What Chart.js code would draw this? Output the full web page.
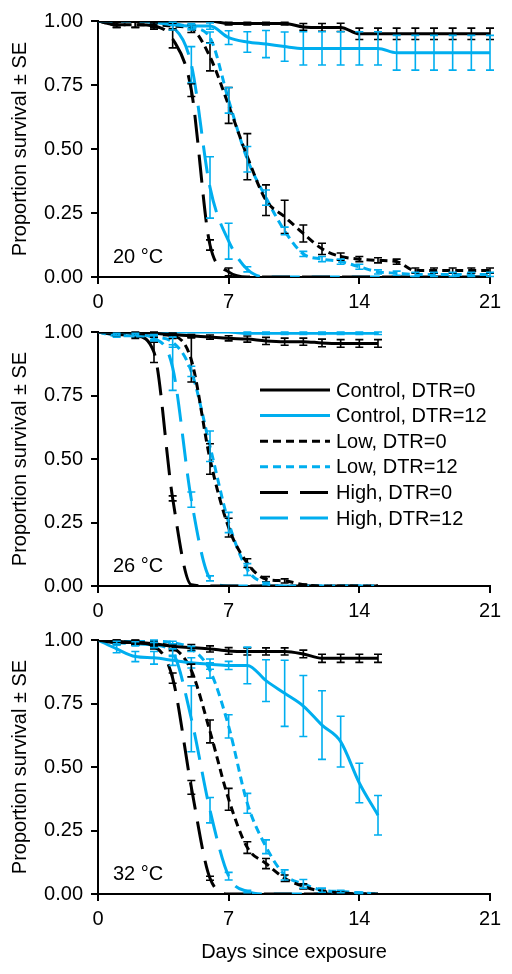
<!DOCTYPE html>
<html>
<head>
<meta charset="utf-8">
<script src="https://cdn.jsdelivr.net/npm/chart.js@4.4.1/dist/chart.umd.min.js"></script>
<style>
  html, body { margin: 0; padding: 0; background: #fff; }
  #wrap { position: relative; width: 512px; height: 974px; }
  .panel { position: absolute; left: 0; }
</style>
</head>
<body>
<div id="wrap">
  <canvas id="p20" class="panel" style="top:0" width="512" height="312"></canvas>
  <canvas id="p26" class="panel" style="top:312px" width="512" height="306"></canvas>
  <canvas id="p32" class="panel" style="top:618px" width="512" height="356"></canvas>
</div>
<script>
// days on the x axis
const days20 = [0, 1, 2, 3, 4, 5, 6, 7, 8, 9, 10, 11, 12, 13, 14, 15, 16, 17, 18, 19, 20, 21];
const days26 = [0, 1, 2, 3, 4, 5, 6, 7, 8, 9, 10, 11, 12, 13, 14, 15];
const days32 = [0, 1, 2, 3, 4, 5, 6, 7, 8, 9, 10, 11, 12, 13, 14, 15];
const xTicks = [0, 7, 14, 21];
const yTicks = [0, 0.25, 0.5, 0.75, 1];

const seriesLabels = ["Control, DTR=0", "Control, DTR=12", "Low, DTR=0", "Low, DTR=12", "High, DTR=0", "High, DTR=12"];

// 20 °C
const ctrl0_20   = [1, 1, 1, 1, 1, 1, 1, 0.99, 0.99, 0.99, 0.99, 0.977, 0.975, 0.975, 0.95, 0.95, 0.95, 0.95, 0.95, 0.95, 0.95, 0.95];
const ctrl0_20se = [0, 0, 0, 0, 0, 0, 0, 0.005, 0.005, 0.005, 0.005, 0.013, 0.015, 0.016, 0.022, 0.022, 0.022, 0.022, 0.022, 0.022, 0.022, 0.022];
const ctrl12_20   = [1, 1, 1, 0.995, 0.985, 0.98, 0.98, 0.935, 0.918, 0.91, 0.9, 0.893, 0.893, 0.893, 0.893, 0.893, 0.876, 0.876, 0.876, 0.876, 0.876, 0.876];
const ctrl12_20se = [0, 0, 0, 0, 0, 0.01, 0.012, 0.027, 0.04, 0.053, 0.057, 0.065, 0.065, 0.065, 0.065, 0.065, 0.068, 0.068, 0.068, 0.068, 0.068, 0.068];
const low0_20   = [1, 0.985, 0.985, 0.985, 0.98, 0.97, 0.86, 0.67, 0.47, 0.3, 0.235, 0.17, 0.11, 0.08, 0.07, 0.065, 0.06, 0.025, 0.025, 0.025, 0.025, 0.025];
const low0_20se = [0, 0.01, 0.01, 0.012, 0.01, 0.015, 0.055, 0.07, 0.09, 0.06, 0.065, 0.033, 0.022, 0.014, 0.01, 0.01, 0.01, 0.01, 0.01, 0.01, 0.01, 0.01];
const low12_20   = [1, 1, 1, 0.995, 0.99, 0.975, 0.935, 0.69, 0.46, 0.31, 0.18, 0.09, 0.07, 0.06, 0.04, 0.02, 0.015, 0.01, 0.01, 0.01, 0.01, 0.01];
const low12_20se = [0, 0, 0, 0, 0.005, 0.01, 0.022, 0.05, 0.05, 0.03, 0.015, 0.01, 0.01, 0.01, 0.01, 0.008, 0.008, 0.008, 0.008, 0.008, 0.008, 0.008];
const high0_20   = [1, 0.985, 0.985, 0.98, 0.93, 0.73, 0.125, 0.02, 0, 0, 0, 0, 0, 0, 0, 0, 0, 0, 0, 0, 0, 0];
const high0_20se = [0, 0.01, 0.01, 0.012, 0.035, 0.025, 0.02, 0.015, 0, 0, 0, 0, 0, 0, 0, 0, 0, 0, 0, 0, 0, 0];
const high12_20   = [1, 1, 1, 0.995, 0.975, 0.83, 0.35, 0.14, 0.03, 0, 0, 0, 0, 0, 0, 0, 0, 0, 0, 0, 0, 0];
const high12_20se = [0, 0, 0, 0, 0.01, 0.07, 0.12, 0.07, 0.01, 0, 0, 0, 0, 0, 0, 0, 0, 0, 0, 0, 0, 0];

// 26 °C
const ctrl0_26   = [1, 1, 1, 0.995, 0.99, 0.985, 0.98, 0.975, 0.972, 0.965, 0.962, 0.962, 0.957, 0.955, 0.955, 0.955];
const ctrl0_26se = [0, 0, 0, 0, 0.005, 0.005, 0.008, 0.01, 0.012, 0.014, 0.014, 0.014, 0.015, 0.015, 0.015, 0.015];
const ctrl12_26   = [1, 1, 1, 1, 1, 1, 1, 1, 0.995, 0.995, 0.995, 0.995, 0.995, 0.995, 0.995, 0.995];
const ctrl12_26se = [0, 0, 0, 0, 0, 0, 0, 0, 0.005, 0.005, 0.005, 0.005, 0.005, 0.005, 0.005, 0.005];
const low0_26   = [1, 1, 0.995, 0.99, 0.985, 0.89, 0.5, 0.23, 0.09, 0.027, 0.02, 0.005, 0, 0, 0, 0];
const low0_26se = [0, 0, 0.005, 0.01, 0.01, 0.087, 0.06, 0.037, 0.017, 0.01, 0.008, 0.003, 0, 0, 0, 0];
const low12_26   = [1, 0.985, 0.985, 0.98, 0.96, 0.845, 0.55, 0.25, 0.065, 0.01, 0, 0, 0, 0, 0, 0];
const low12_26se = [0, 0.005, 0.005, 0.01, 0.02, 0.02, 0.06, 0.04, 0.023, 0.005, 0, 0, 0, 0, 0, 0];
const high0_26   = [1, 0.99, 0.985, 0.92, 0.345, 0.005, 0, 0, 0, 0, 0, 0, 0, 0, 0, 0];
const high0_26se = [0, 0.005, 0.01, 0.04, 0.01, 0, 0, 0, 0, 0, 0, 0, 0, 0, 0, 0];
const high12_26   = [1, 0.99, 0.99, 0.975, 0.86, 0.34, 0.03, 0, 0, 0, 0, 0, 0, 0, 0, 0];
const high12_26se = [0, 0.005, 0.005, 0.01, 0.09, 0.03, 0.01, 0, 0, 0, 0, 0, 0, 0, 0, 0];

// 32 °C
const ctrl0_32   = [1, 0.99, 0.99, 0.985, 0.975, 0.97, 0.965, 0.957, 0.955, 0.955, 0.955, 0.945, 0.928, 0.928, 0.928, 0.928];
const ctrl0_32se = [0, 0.008, 0.01, 0.01, 0.01, 0.012, 0.012, 0.013, 0.014, 0.014, 0.014, 0.015, 0.016, 0.016, 0.016, 0.016];
const ctrl12_32   = [1, 0.965, 0.935, 0.93, 0.92, 0.91, 0.905, 0.9, 0.9, 0.84, 0.79, 0.74, 0.665, 0.6, 0.437, 0.31];
const ctrl12_32se = [0, 0.015, 0.02, 0.025, 0.02, 0.02, 0.02, 0.016, 0.072, 0.082, 0.13, 0.12, 0.135, 0.1, 0.078, 0.078];
const low0_32   = [1, 0.995, 0.99, 0.985, 0.97, 0.88, 0.64, 0.373, 0.183, 0.12, 0.062, 0.03, 0.01, 0.005, 0, 0];
const low0_32se = [0, 0.005, 0.008, 0.01, 0.012, 0.025, 0.045, 0.043, 0.023, 0.02, 0.013, 0.01, 0.005, 0.003, 0, 0];
const low12_32   = [1, 1, 1, 0.995, 0.99, 0.965, 0.88, 0.66, 0.357, 0.186, 0.075, 0.04, 0.015, 0.01, 0.005, 0];
const low12_32se = [0, 0, 0, 0.005, 0.005, 0.01, 0.03, 0.046, 0.039, 0.027, 0.02, 0.017, 0.008, 0.005, 0.003, 0];
const high0_32   = [1, 0.995, 0.99, 0.975, 0.85, 0.42, 0.062, 0, 0, 0, 0, 0, 0, 0, 0, 0];
const high0_32se = [0, 0.005, 0.008, 0.01, 0.02, 0.027, 0.008, 0, 0, 0, 0, 0, 0, 0, 0, 0];
const high12_32   = [1, 0.99, 0.985, 0.98, 0.95, 0.69, 0.33, 0.07, 0.01, 0, 0, 0, 0, 0, 0, 0];
const high12_32se = [0, 0.005, 0.008, 0.01, 0.015, 0.13, 0.05, 0.015, 0.005, 0, 0, 0, 0, 0, 0, 0];

const BLACK = "#000000";
const BLUE = "#00aeef";
const FONT = "'Liberation Sans', Arial, sans-serif";

Chart.defaults.font.family = FONT;
Chart.defaults.font.size = 20;
Chart.defaults.color = "#000";

const lineStyles = [
  { color: BLACK, dash: [] },
  { color: BLUE, dash: [] },
  { color: BLACK, dash: [8, 5] },
  { color: BLUE, dash: [8, 5] },
  { color: BLACK, dash: [28, 12] },
  { color: BLUE, dash: [28, 12] }
];

// vertical SE bars with small caps, drawn through the chart scales
const errorBars = {
  id: "errorBars",
  afterDatasetsDraw(chart) {
    const { ctx, scales: { x, y } } = chart;
    ctx.save();
    ctx.setLineDash([]);
    ctx.lineWidth = 1.6;
    chart.data.datasets.forEach(ds => {
      ctx.strokeStyle = ds.borderColor;
      ds.data.forEach((p, j) => {
        const e = ds.se[j];
        if (!e) return;
        const px = x.getPixelForValue(p.x);
        const top = y.getPixelForValue(Math.min(1, p.y + e));
        const bot = y.getPixelForValue(Math.max(0, p.y - e));
        ctx.beginPath();
        ctx.moveTo(px, top);
        ctx.lineTo(px, bot);
        ctx.moveTo(px - 4, top);
        ctx.lineTo(px + 4, top);
        ctx.moveTo(px - 4, bot);
        ctx.lineTo(px + 4, bot);
        ctx.stroke();
      });
    });
    ctx.restore();
  }
};

// "20 °C" etc. in the lower left corner
const panelLabel = {
  id: "panelLabel",
  afterDraw(chart, args, opts) {
    const { ctx, chartArea } = chart;
    ctx.save();
    ctx.font = "20px " + FONT;
    ctx.fillStyle = "#000";
    ctx.textBaseline = "middle";
    ctx.fillText(opts.text, chartArea.left + 15, chartArea.bottom - 20);
    ctx.restore();
  }
};

const panelLegend = {
  id: "panelLegend",
  afterDraw(chart, args, opts) {
    if (!opts.show) return;
    const { ctx, chartArea } = chart;
    ctx.save();
    ctx.font = "20px " + FONT;
    ctx.fillStyle = "#000";
    ctx.textBaseline = "middle";
    chart.data.datasets.forEach((ds, i) => {
      const yy = chartArea.top + 58 + i * 25.6;
      const x0 = chartArea.left + 162;
      ctx.strokeStyle = ds.borderColor;
      ctx.lineWidth = 3;
      ctx.setLineDash(ds.borderDash);
      ctx.beginPath();
      ctx.moveTo(x0, yy);
      ctx.lineTo(x0 + 70, yy);
      ctx.stroke();
      ctx.fillText(ds.label, x0 + 76, yy + 1);
    });
    ctx.restore();
  }
};

function makePanel(id, days, series, errors, opts) {
  const datasets = series.map((vals, i) => ({
    label: seriesLabels[i],
    data: days.map((d, j) => ({ x: d, y: vals[j] })),
    se: errors[i],
    borderColor: lineStyles[i].color,
    borderDash: lineStyles[i].dash,
    borderWidth: 3,
    pointRadius: 0,
    cubicInterpolationMode: "monotone",
    fill: false
  }));

  return new Chart(document.getElementById(id), {
    type: "line",
    data: { datasets },
    options: {
      responsive: false,
      animation: false,
      events: [],
      layout: { padding: { top: opts.padTop, right: 22, left: 0, bottom: 0 } },
      plugins: {
        legend: { display: false },
        tooltip: { enabled: false },
        panelLabel: { text: opts.label },
        panelLegend: { show: !!opts.legend }
      },
      scales: {
        x: {
          type: "linear",
          min: 0,
          max: 21,
          afterBuildTicks: s => { s.ticks = xTicks.map(v => ({ value: v })); },
          ticks: { padding: 6, font: { size: 20 }, callback: v => String(v) },
          grid: { display: true, drawOnChartArea: false, drawTicks: true, tickLength: 7, color: "#000", lineWidth: 2 },
          border: { display: true, color: "#000", width: 2 },
          title: { display: !!opts.xTitle, text: opts.xTitle || "", font: { size: 20 }, padding: { top: 0, bottom: 10 } },
          afterFit: s => { s.height = opts.xHeight; }
        },
        y: {
          min: 0,
          max: 1,
          afterBuildTicks: s => { s.ticks = yTicks.map(v => ({ value: v })); },
          ticks: { padding: 8, font: { size: 20 }, callback: v => v.toFixed(2) },
          grid: { display: true, drawOnChartArea: false, drawTicks: true, tickLength: 7, color: "#000", lineWidth: 2 },
          border: { display: true, color: "#000", width: 2 },
          title: { display: true, text: "Proportion survival ± SE", font: { size: 20 }, padding: { top: 8, bottom: 0 } },
          afterFit: s => { s.width = 98; }
        }
      }
    },
    plugins: [errorBars, panelLabel, panelLegend]
  });
}

makePanel("p20", days20,
  [ctrl0_20, ctrl12_20, low0_20, low12_20, high0_20, high12_20],
  [ctrl0_20se, ctrl12_20se, low0_20se, low12_20se, high0_20se, high12_20se],
  { label: "20 °C", padTop: 21, xHeight: 35 });

makePanel("p26", days26,
  [ctrl0_26, ctrl12_26, low0_26, low12_26, high0_26, high12_26],
  [ctrl0_26se, ctrl12_26se, low0_26se, low12_26se, high0_26se, high12_26se],
  { label: "26 °C", padTop: 20, xHeight: 32, legend: true });

makePanel("p32", days32,
  [ctrl0_32, ctrl12_32, low0_32, low12_32, high0_32, high12_32],
  [ctrl0_32se, ctrl12_32se, low0_32se, low12_32se, high0_32se, high12_32se],
  { label: "32 °C", padTop: 22, xHeight: 80, xTitle: "Days since exposure" });
</script>
</body>
</html>
